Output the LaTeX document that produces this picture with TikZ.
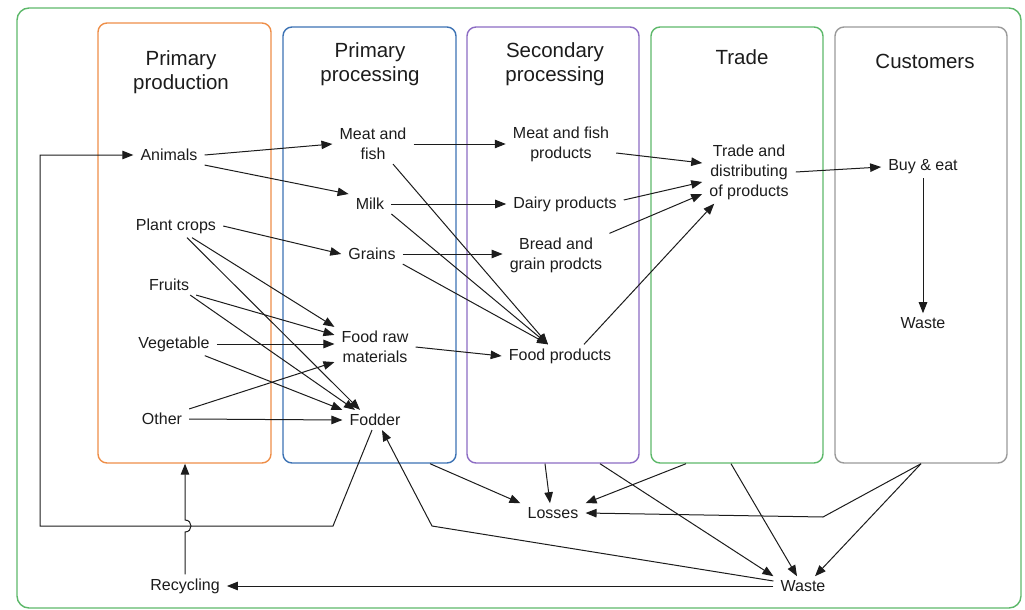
\documentclass[tikz,border=0pt]{standalone}
\usepackage{fontspec}
\setmainfont{Liberation Sans}
\usepackage{xcolor}
\usetikzlibrary{arrows.meta}
\definecolor{orange}{HTML}{EE8E48}
\definecolor{blue}{HTML}{3C72B3}
\definecolor{purple}{HTML}{8C6CC3}
\definecolor{green}{HTML}{5DB86A}
\definecolor{gray}{HTML}{9A9A9A}
\definecolor{ink}{HTML}{1C1C1C}

\tikzset{
  lane/.style={draw, rounded corners=9pt, line width=1.4pt, minimum width=173pt, minimum height=436pt, inner sep=0pt},
  ttl/.style={font=\fontsize{20.5}{24}\selectfont, text=ink, align=center},
  lbl/.style={font=\fontsize{16}{20}\selectfont, text=ink, align=center, inner xsep=7pt, inner ysep=4pt},
  flow/.style={draw=ink, line width=1pt, -{Triangle[length=11pt,width=8.5pt]}},
}

\begin{document}
\begin{tikzpicture}[x=1pt, y=-1pt]
    \useasboundingbox (0,0) rectangle (1025,610);
    \draw[green, line width=1.4pt, rounded corners=12pt] (17,8) rectangle (1021,608);

    % columns
    \node[lane, draw=orange, minimum height=440pt] (prodlane) at (184.5,243) {};
    \node[lane, draw=blue] (proclane) at (369.5,245) {};
    \node[lane, draw=purple, minimum width=172pt] (seclane) at (553,245) {};
    \node[lane, draw=green, minimum width=172pt] (tradelane) at (737,245) {};
    \node[lane, draw=gray, minimum width=172pt] (custlane) at (921,245) {};

    \node[ttl] (ttlprod) at (181,72) {Primary\\production};
    \node[ttl] (ttlproc) at (370,64.5) {Primary\\processing};
    \node[ttl] (ttlsec) at (555,64.5) {Secondary\\processing};
    \node[ttl] (ttltrade) at (742,57) {Trade};
    \node[ttl] (ttlcust) at (925,61) {Customers};

    % labels
    \node[lbl] (animals) at (169,155) {Animals};
    \node[lbl] (plants) at (176,226) {Plant crops};
    \node[lbl] (fruits) at (169,285) {Fruits};
    \node[lbl] (vegetable) at (174,344) {Vegetable};
    \node[lbl] (other) at (162,419) {Other};

    \node[lbl] (meatfish) at (373,144) {Meat and\\fish};
    \node[lbl] (milk) at (370,204) {Milk};
    \node[lbl] (grains) at (372,254) {Grains};
    \node[lbl] (rawmat) at (375,347) {Food raw\\materials};
    \node[lbl] (fodder) at (375,420) {Fodder};

    \node[lbl] (mfprod) at (561,144) {Meat and fish\\products};
    \node[lbl] (dairy) at (565,204) {Dairy products};
    \node[lbl] (bread) at (556,255) {Bread and\\grain prodcts};
    \node[lbl] (foodprod) at (560,356) {Food products};

    \node[lbl] (trade) at (749,172) {Trade and\\distributing\\of products};
    \node[lbl] (buyeat) at (923,167) {Buy \& eat};
    \node[lbl] (custwaste) at (923,323) {Waste};

    \node[lbl] (losses) at (553,513) {Losses};
    \node[lbl] (waste) at (803,586) {Waste};
    \node[lbl] (recycling) at (185,586) {Recycling};

    \coordinate (loopa) at (333,526);
    \coordinate (loopb) at (40,526);
    \coordinate (hop) at (185,526);
    \coordinate (fodderbend) at (432,526);
    \coordinate (lossbend) at (823,517);

    % primary production
    \draw[flow] (animals.east) -- (meatfish.west);
    \draw[flow] (animals.south east) -- (milk.north west);
    \draw[flow] (plants.east) -- (grains.west);
    \draw[flow] ([xshift=16pt]plants.south) -- (rawmat.north west);
    \draw[flow] ([xshift=11pt]plants.south) -- ([xshift=-15pt]fodder.north);
    \draw[flow] (fruits.south east) -- ([shift={(0,8)}]rawmat.north west);
    \draw[flow] ([shift={(-6,0)}]fruits.south east) -- ([xshift=-20pt]fodder.north);
    \draw[flow] (vegetable.east) -- (vegetable.east -| rawmat.west);
    \draw[flow] ([shift={(-12,0)}]vegetable.south east) -- (fodder.north west);
    \draw[flow] (other.north east) -- ([shift={(0,-5)}]rawmat.south west);
    \draw[flow] (other.east) -- (fodder.west);

    % primary processing
    \draw[flow] (meatfish.east) -- (meatfish.east -| mfprod.west);
    \draw[flow] ([xshift=20pt]meatfish.south) -- ([xshift=-12pt]foodprod.north);
    \draw[flow] (milk.east) -- (dairy.west);
    \draw[flow] (milk.south east) -- ([xshift=-12pt]foodprod.north);
    \draw[flow] (grains.east) -- (grains.east -| bread.west);
    \draw[flow] (grains.south east) -- ([xshift=-12pt]foodprod.north);
    \draw[flow] (rawmat.east) -- (foodprod.west);

    % secondary processing
    \draw[flow] ([shift={(0,9)}]mfprod.east) -- ([shift={(0,-9)}]trade.west);
    \draw[flow] ([shift={(0,-4)}]dairy.east) -- ([shift={(0,10)}]trade.west);
    \draw[flow] (bread.north east) -- ([shift={(0,22)}]trade.west);
    \draw[flow] ([xshift=24pt]foodprod.north) -- ([xshift=12pt]trade.south west);

    % trade and customers
    \draw[flow] (trade.east) -- (buyeat.west);
    \draw[flow] (buyeat.south) -- (custwaste.north);

    % losses and waste
    \draw[flow] ([xshift=60.5pt]proclane.south) -- (losses.north west);
    \draw[flow] ([xshift=-8pt]seclane.south) -- ([xshift=-3pt]losses.north);
    \draw[flow] ([xshift=-51pt]tradelane.south) -- (losses.north east);
    \draw[flow] (custlane.south) -- (lossbend) -- (losses.east);
    \draw[flow] ([xshift=47pt]seclane.south) -- (waste.north west);
    \draw[flow] ([xshift=-6pt]tradelane.south) -- ([xshift=-6pt]waste.north);
    \draw[flow] (custlane.south) -- ([xshift=12pt]waste.north);

    % back loops
    \draw[flow] (waste.west) -- (recycling.east);
    \draw[flow] ([yshift=5pt]waste.west) -- (fodderbend) -- ([xshift=7pt]fodder.south);
    \draw[flow] ([xshift=-3pt]fodder.south) -- (loopa) -- (loopb) |- (animals.west);
    \draw[flow] (recycling.north) -- ([yshift=-6pt]hop)
        .. controls +(8pt,0) and +(8pt,0) .. ([yshift=6pt]hop) -- (recycling.north |- prodlane.south);
\end{tikzpicture}
\end{document}
